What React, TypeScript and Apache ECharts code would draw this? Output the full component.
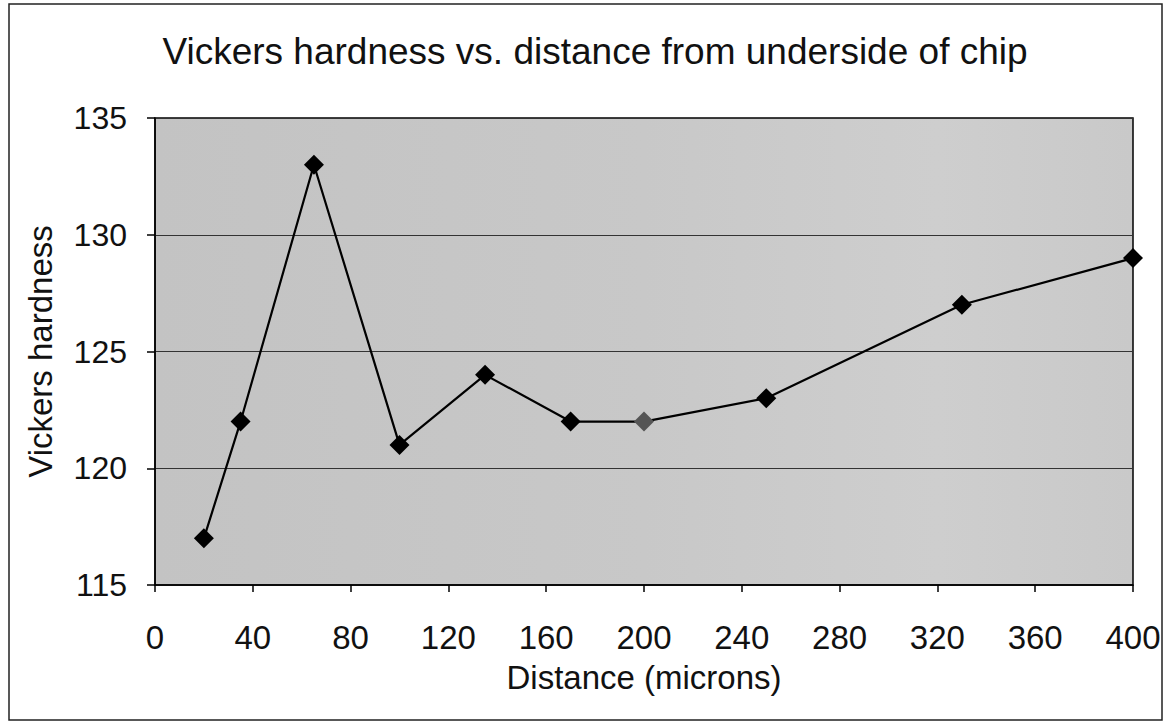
import React, { useEffect, useRef } from "react";
import * as echarts from "echarts";

const distances = [20, 35, 65, 100, 135, 170, 200, 250, 330, 400];
const hardness = [117, 122, 133, 121, 124, 122, 122, 123, 127, 129];
const highlightedIndex = 6;

export default function App() {
  const ref = useRef<HTMLDivElement>(null);
  useEffect(() => {
    document.body.style.margin = "0";
    const chart = echarts.init(ref.current!, null, { renderer: "svg" });
    const font = "'Liberation Sans', Arial, sans-serif";
    chart.setOption({
      animation: false,
      backgroundColor: "#ffffff",
      title: {
        text: "Vickers hardness vs. distance from underside of chip",
        left: 590,
        textAlign: "center",
        top: 28,
        textStyle: { fontFamily: font, fontSize: 37, fontWeight: "normal", color: "#111" },
      },
      graphic: [
        {
          type: "rect",
          shape: { x: 9, y: 4, width: 1153, height: 716 },
          style: { fill: "none", stroke: "#222", lineWidth: 1.5 },
          silent: true,
        },
      ],
      grid: {
        left: 155,
        right: 33,
        top: 118,
        bottom: 141,
        show: true,
        backgroundColor: {
          type: "linear",
          x: 0, y: 0, x2: 1, y2: 0,
          colorStops: [
            { offset: 0, color: "#c3c3c3" },
            { offset: 0.5, color: "#c8c8c8" },
            { offset: 0.8, color: "#cecece" },
            { offset: 1, color: "#c9c9c9" },
          ],
        },
        borderColor: "#000",
        borderWidth: 1.5,
      },
      xAxis: {
        type: "value",
        min: 0,
        max: 400,
        interval: 40,
        name: "Distance (microns)",
        nameLocation: "middle",
        nameGap: 76,
        nameTextStyle: { fontFamily: font, fontSize: 33, color: "#111" },
        axisLine: { show: true, lineStyle: { color: "#000", width: 1.5 } },
        axisTick: { show: true, length: 7, lineStyle: { color: "#000", width: 1.5 } },
        axisLabel: { fontFamily: font, fontSize: 33, color: "#111", margin: 36 },
        splitLine: { show: false },
      },
      yAxis: {
        type: "value",
        min: 115,
        max: 135,
        interval: 5,
        name: "Vickers hardness",
        nameLocation: "middle",
        nameGap: 98,
        nameTextStyle: { fontFamily: font, fontSize: 33, color: "#111" },
        axisLine: { show: true, lineStyle: { color: "#000", width: 1.5 } },
        axisTick: { show: true, length: 8, lineStyle: { color: "#000", width: 1.5 } },
        axisLabel: { fontFamily: font, fontSize: 32, color: "#111", margin: 28 },
        splitLine: { show: true, lineStyle: { color: "#333", width: 1.2 } },
      },
      series: [
        {
          type: "line",
          data: distances.map((d, i) =>
            i === highlightedIndex
              ? { value: [d, hardness[i]], itemStyle: { color: "#555", borderColor: "#555" } }
              : [d, hardness[i]]
          ),
          symbol: "diamond",
          symbolSize: 20,
          lineStyle: { color: "#000", width: 2.2 },
          itemStyle: { color: "#000", borderColor: "#000", borderWidth: 0 },
        },
      ],
    });
    return () => chart.dispose();
  }, []);
  return <div ref={ref} style={{ width: 1166, height: 726 }} />;
}
